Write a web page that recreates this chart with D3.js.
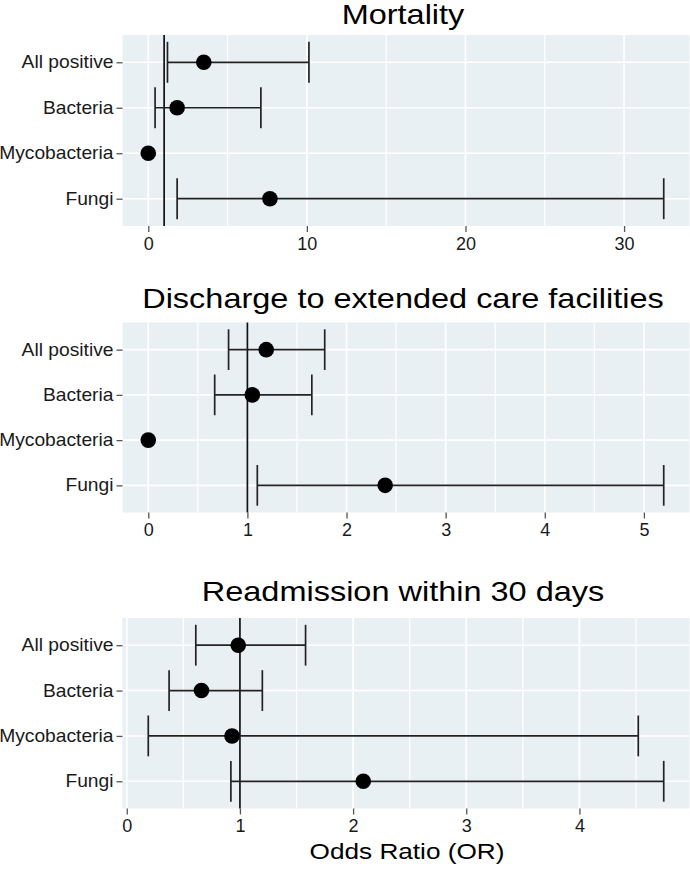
<!DOCTYPE html>
<html><head><meta charset="utf-8">
<script src="https://cdn.jsdelivr.net/npm/d3@7"></script>
<style>body{margin:0;background:#fff}svg{display:block}text{font-family:"Liberation Sans",Arial,sans-serif}</style>
</head><body>
<svg id="c" width="690" height="873"></svg>
<script>
const categories = ["All positive","Bacteria","Mycobacteria","Fungi"];
const panelTitles = ["Mortality","Discharge to extended care facilities","Readmission within 30 days"];
// odds ratios (point estimates) and 95% CI
const mortalityOR  = [3.5, 1.82, 0, 7.67];
const mortalityLo  = [1.21, 0.43, null, 1.82];
const mortalityHi  = [10.13, 7.1, null, 32.5];
const dischargeOR  = [1.19, 1.05, 0, 2.39];
const dischargeLo  = [0.81, 0.67, null, 1.10];
const dischargeHi  = [1.78, 1.65, null, 5.2];
const readmitOR    = [0.985, 0.66, 0.93, 2.09];
const readmitLo    = [0.61, 0.374, 0.19, 0.92];
const readmitHi    = [1.58, 1.198, 4.52, 4.745];
const mortalityTicks = [0,10,20,30], mortalityMinor = [5,15,25];
const dischargeTicks = [0,1,2,3,4,5], dischargeMinor = [0.5,1.5,2.5,3.5,4.5];
const readmitTicks = [0,1,2,3,4], readmitMinor = [0.5,1.5,2.5,3.5,4.5];
const xTitle = "Odds Ratio (OR)";
const refValue = 1;

const panels = [
  {title:panelTitles[0], or:mortalityOR, lo:mortalityLo, hi:mortalityHi, ticks:mortalityTicks, minor:mortalityMinor, top:35, bottom:226, titleY:24},
  {title:panelTitles[1], or:dischargeOR, lo:dischargeLo, hi:dischargeHi, ticks:dischargeTicks, minor:dischargeMinor, top:322.5, bottom:512.5, titleY:308},
  {title:panelTitles[2], or:readmitOR, lo:readmitLo, hi:readmitHi, ticks:readmitTicks, minor:readmitMinor, top:618, bottom:808.5, titleY:601}
];
const svg = d3.select("#c");
const L = 122.5, R = 689.5;
panels.forEach(p => {
  const vals = [];
  p.or.forEach((v,i)=>{vals.push(v); if(p.lo[i]!=null){vals.push(p.lo[i],p.hi[i]);}});
  const mn = d3.min(vals), mx = d3.max(vals), pad = (mx-mn)*0.05;
  const x = d3.scaleLinear().domain([mn-pad, mx+pad]).range([L,R]);
  const y = d3.scalePoint().domain(categories).range([p.top,p.bottom]).padding(0.6);
  const g = svg.append("g");
  g.append("rect").attr("x",L).attr("y",p.top).attr("width",R-L).attr("height",p.bottom-p.top).attr("fill","#E9F0F4");
  const minor = p.minor.filter(v=>x(v)>=L && x(v)<=R);
  g.selectAll(".mn").data(minor).join("line").attr("x1",d=>x(d)).attr("x2",d=>x(d)).attr("y1",p.top).attr("y2",p.bottom).attr("stroke","#fff").attr("stroke-width",1.2);
  g.selectAll(".mj").data(p.ticks).join("line").attr("x1",d=>x(d)).attr("x2",d=>x(d)).attr("y1",p.top).attr("y2",p.bottom).attr("stroke","#fff").attr("stroke-width",1.6);
  g.selectAll(".hy").data(categories).join("line").attr("x1",L).attr("x2",R).attr("y1",d=>y(d)).attr("y2",d=>y(d)).attr("stroke","#fff").attr("stroke-width",1.6);
  g.append("line").attr("x1",x(refValue)).attr("x2",x(refValue)).attr("y1",p.top).attr("y2",p.bottom).attr("stroke","#111").attr("stroke-width",1.7);
  const xa = g.append("g").attr("transform",`translate(0,${p.bottom})`).call(d3.axisBottom(x).tickValues(p.ticks).tickSize(6).tickPadding(5).tickFormat(d3.format("d")));
  xa.select(".domain").remove();
  xa.selectAll("line").attr("stroke","#555").attr("stroke-width",1.3);
  xa.selectAll("text").attr("font-size",18).attr("fill","#1a1a1a").attr("font-family","Liberation Sans, Arial, sans-serif");
  const ya = g.append("g").attr("transform",`translate(${L},0)`).call(d3.axisLeft(y).tickSize(6).tickPadding(3));
  ya.select(".domain").remove();
  ya.selectAll("line").attr("stroke","#555").attr("stroke-width",1.3);
  ya.selectAll("text").attr("font-size",17.5).attr("fill","#1a1a1a").attr("font-family","Liberation Sans, Arial, sans-serif")
    .attr("transform","translate(-9,0) scale(1.1,1)").attr("x",0);
  const idx = d3.range(categories.length).filter(i=>p.lo[i]!=null);
  const bw = y.step()*0.45;
  const eb = g.selectAll(".eb").data(idx).join("g").attr("stroke","#222").attr("stroke-width",1.7);
  eb.append("line").attr("x1",i=>x(p.lo[i])).attr("x2",i=>x(p.hi[i])).attr("y1",i=>y(categories[i])).attr("y2",i=>y(categories[i]));
  eb.append("line").attr("x1",i=>x(p.lo[i])).attr("x2",i=>x(p.lo[i])).attr("y1",i=>y(categories[i])-bw).attr("y2",i=>y(categories[i])+bw);
  eb.append("line").attr("x1",i=>x(p.hi[i])).attr("x2",i=>x(p.hi[i])).attr("y1",i=>y(categories[i])-bw).attr("y2",i=>y(categories[i])+bw);
  g.selectAll(".pt").data(d3.range(categories.length)).join("circle").attr("cx",i=>x(p.or[i])).attr("cy",i=>y(categories[i])).attr("r",7.8).attr("fill","#000");
  g.append("text").attr("transform",`translate(403,${p.titleY}) scale(1.16,1)`).attr("text-anchor","middle").attr("font-size",28).attr("fill","#000").text(p.title);
});
svg.append("text").attr("transform","translate(407,859) scale(1.19,1)").attr("text-anchor","middle").attr("font-size",22).attr("fill","#000").text(xTitle);
</script>
</body></html>
